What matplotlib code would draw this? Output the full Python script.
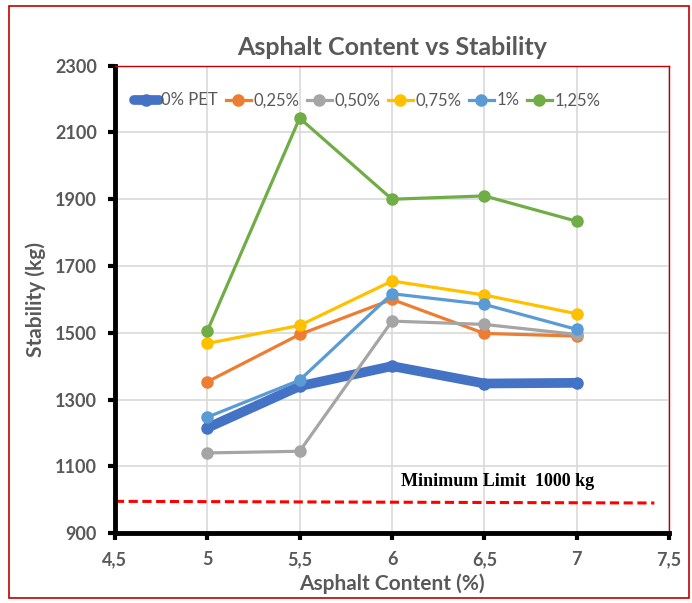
import matplotlib.pyplot as plt
from matplotlib.patches import Rectangle

plt.rcParams['font.family'] = ['Lato', 'DejaVu Sans']

asphalt = [5, 5.5, 6, 6.5, 7]
pet_0 = [1215, 1340, 1400, 1348, 1350]
pet_025 = [1353, 1495, 1600, 1498, 1490]
pet_050 = [1140, 1145, 1535, 1525, 1495]
pet_075 = [1468, 1522, 1655, 1613, 1557]
pet_1 = [1247, 1358, 1617, 1585, 1510]
pet_125 = [1505, 2143, 1900, 1910, 1834]

labels = ['0% PET', '0,25%', '0,50%', '0,75%', '1%', '1,25%']
colors = ['#4472C4', '#ED7D31', '#A5A5A5', '#FFC000', '#5B9BD5', '#70AD47']

limit_x = [4.5, 7.42]
limit_y = [995, 990]

xticks = [4.5, 5, 5.5, 6, 6.5, 7, 7.5]
xtick_labels = ['4,5', '5', '5,5', '6', '6,5', '7', '7,5']
yticks = [900, 1100, 1300, 1500, 1700, 1900, 2100, 2300]

grey = '#595959'

fig = plt.figure(figsize=(6.92, 6.03), dpi=100)
ax = fig.add_axes([0.166, 0.116, 0.801, 0.775])

series = [pet_0, pet_025, pet_050, pet_075, pet_1, pet_125]
for i, (vals, lab, col) in enumerate(zip(series, labels, colors)):
    if i == 0:
        ax.plot(asphalt, vals, color=col, lw=7, marker='o', ms=8,
                solid_capstyle='round', label=lab, zorder=3)
    else:
        ax.plot(asphalt, vals, color=col, lw=2.3, marker='o', ms=8,
                label=lab, zorder=3)

ax.plot(limit_x, limit_y, color='red', lw=2.2, ls=(0, (3, 1.5)), zorder=2)
ax.text(6.05, 1054, 'Minimum Limit  1000 kg', family='Liberation Serif',
        fontsize=13, fontweight='bold', color='black', ha='left', va='center')

ax.set_xlim(4.5, 7.5)
ax.set_ylim(900, 2300)
ax.set_xticks(xticks)
ax.set_xticklabels(xtick_labels)
ax.set_yticks(yticks)
ax.grid(True, color='#D9D9D9', lw=1.2)
ax.set_axisbelow(True)

for s in ['left', 'bottom']:
    ax.spines[s].set_linewidth(3.5)
    ax.spines[s].set_color('black')
for s in ['top', 'right']:
    ax.spines[s].set_linewidth(1)
    ax.spines[s].set_color('#C00000')

ax.tick_params(axis='both', direction='out', length=5, width=3, colors='black',
               labelcolor=grey, labelsize=13, pad=8)
for t in ax.get_xticklabels() + ax.get_yticklabels():
    t.set_fontweight('bold')

ax.set_xlabel('Asphalt Content (%)', fontsize=15, fontweight='bold', color=grey, labelpad=4)
ax.set_ylabel('Stability (kg)', fontsize=15, fontweight='bold', color=grey, labelpad=6)
ax.set_title('Asphalt Content vs Stability', fontsize=18, fontweight='bold', color=grey, pad=8)

ax.legend(loc='upper center', bbox_to_anchor=(0.455, 0.975), ncol=6, frameon=False,
          prop={'size': 12}, handlelength=1.5, handletextpad=0.15,
          columnspacing=0.45, labelcolor=grey)

fig.patches.append(Rectangle((0.013, 0.008), 0.982, 0.982, transform=fig.transFigure,
                             fill=False, edgecolor='#C00000', lw=1.2))

fig.savefig('out.png', dpi=100)
